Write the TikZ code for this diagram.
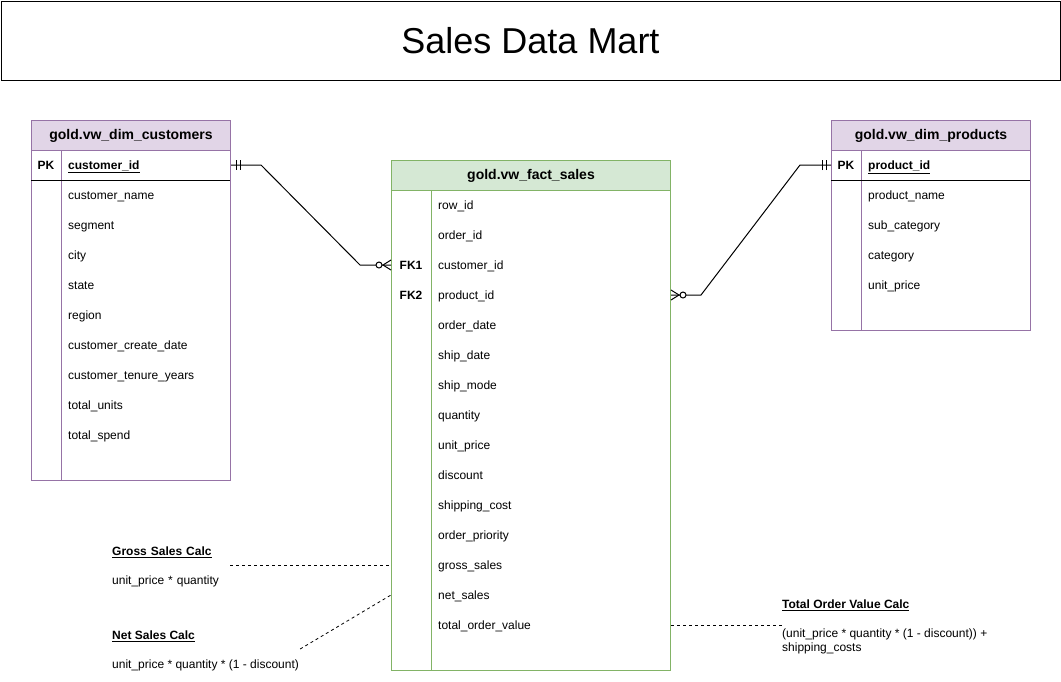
\documentclass[tikz,border=0pt]{standalone}
\usepackage{fontspec}
\setmainfont{Liberation Sans}
\usetikzlibrary{calc, positioning}
\definecolor{dimfill}{HTML}{E1D5E7}
\definecolor{dimline}{HTML}{9673A6}
\definecolor{factfill}{HTML}{D5E8D4}
\definecolor{factline}{HTML}{82B366}
\tikzset{
    every node/.style={font=\fontsize{12}{14}\selectfont},
    tablehead/.style={draw, line width=1pt, anchor=north west, inner sep=0pt,
        minimum height=30pt, font=\fontsize{14}{16}\selectfont\bfseries},
    field/.style={anchor=west, inner sep=0pt, text height=10pt, text depth=2pt},
    keycol/.style={inner sep=0pt, font=\fontsize{12}{14}\selectfont\bfseries},
    note/.style={anchor=west, align=left, inner sep=0pt},
    rel/.style={line width=1pt},
    calcline/.style={line width=0.8pt, dash pattern=on 3pt off 3pt},
    onemark/.pic={
        \draw[line width=1pt] (5,-5) -- (5,5) (9,-5) -- (9,5);
    },
    manymark/.pic={
        \draw[line width=1pt] (0,-5) -- (-8,0) -- (0,5);
        \draw[line width=1pt, fill=white] (-12,0) circle (3pt);
    },
}
\begin{document}
\begin{tikzpicture}[x=1pt, y=-1pt]
    \useasboundingbox (0,0) rectangle (1061,681);
    \node[draw, line width=1pt, minimum width=1059pt, minimum height=79pt,
        font=\fontsize{36}{40}\selectfont] (title) at (530.5,40.5) {Sales Data Mart};

    % customers
    \node[tablehead, fill=dimfill, draw=dimline, minimum width=199pt] (cust-head)
        at (31,120) {gold.vw\_dim\_customers};
    \draw[dimline, line width=1pt] (31,150) rectangle (230,480);
    \draw[dimline, line width=1pt] (61,150) -- (61,480);
    \draw[line width=1pt] (31,180) -- (230,180);
    \node[keycol] (cust-pk) at (46,165) {PK};
    \node[field] (cust-1) at (68,165) {\underline{\textbf{customer\_id}}};
    \foreach \f [count=\i from 2] in {customer\_name, segment, city, state, region,
        customer\_create\_date, customer\_tenure\_years, total\_units, total\_spend}
        \node[field] (cust-\i) at (68,135+30*\i) {\f};

    % fact table
    \node[tablehead, fill=factfill, draw=factline, minimum width=279pt] (sales-head)
        at (391,160) {gold.vw\_fact\_sales};
    \draw[factline, line width=1pt] (391,190) rectangle (670,670);
    \draw[factline, line width=1pt] (431,190) -- (431,670);
    \node[keycol] (sales-fk1) at (411,265) {FK1};
    \node[keycol] (sales-fk2) at (411,295) {FK2};
    \foreach \f [count=\i] in {row\_id, order\_id, customer\_id, product\_id, order\_date,
        ship\_date, ship\_mode, quantity, unit\_price, discount, shipping\_cost,
        order\_priority, gross\_sales, net\_sales, total\_order\_value}
        \node[field] (sales-\i) at (438,175+30*\i) {\f};

    % products
    \node[tablehead, fill=dimfill, draw=dimline, minimum width=199pt] (prod-head)
        at (831,120) {gold.vw\_dim\_products};
    \draw[dimline, line width=1pt] (831,150) rectangle (1030,330);
    \draw[dimline, line width=1pt] (861,150) -- (861,330);
    \draw[line width=1pt] (831,180) -- (1030,180);
    \node[keycol] (prod-pk) at (846,165) {PK};
    \node[field] (prod-1) at (868,165) {\underline{\textbf{product\_id}}};
    \foreach \f [count=\i from 2] in {product\_name, sub\_category, category, unit\_price}
        \node[field] (prod-\i) at (868,135+30*\i) {\f};

    % relationships
    \draw[rel] (cust-pk -| cust-head.east) -- ++(30,0)
        -- ($(sales-fk1 -| sales-head.west)+(-31,0)$) -- (sales-fk1 -| sales-head.west);
    \pic at (cust-pk -| cust-head.east) {onemark};
    \pic at (sales-fk1 -| sales-head.west) {manymark};
    \draw[rel] (sales-fk2 -| sales-head.east) -- ++(30,0)
        -- ($(prod-pk -| prod-head.west)+(-31,0)$) -- (prod-pk -| prod-head.west);
    \pic[rotate=180] at (sales-fk2 -| sales-head.east) {manymark};
    \pic[rotate=180] at (prod-pk -| prod-head.west) {onemark};

    % calc notes
    \node[note, text width=118pt] (gross) at (112,567)
        {\underline{\textbf{Gross Sales Calc}}\\[15pt] unit\_price * quantity};
    \node[note] (net) at (112,651)
        {\underline{\textbf{Net Sales Calc}}\\[15pt] unit\_price * quantity * (1 - discount)};
    \node[note] (total) at (782,627)
        {\underline{\textbf{Total Order Value Calc}}\\[15pt]
        (unit\_price * quantity * (1 - discount)) +\\ shipping\_costs};
    \draw[calcline] (gross.east |- sales-13) -- (sales-13 -| sales-head.west);
    \draw[calcline] ($(net.east)+(1,-2)$) -- (sales-14 -| sales-head.west);
    \draw[calcline] (sales-15 -| sales-head.east) -- (sales-15 -| total.west);
\end{tikzpicture}
\end{document}
